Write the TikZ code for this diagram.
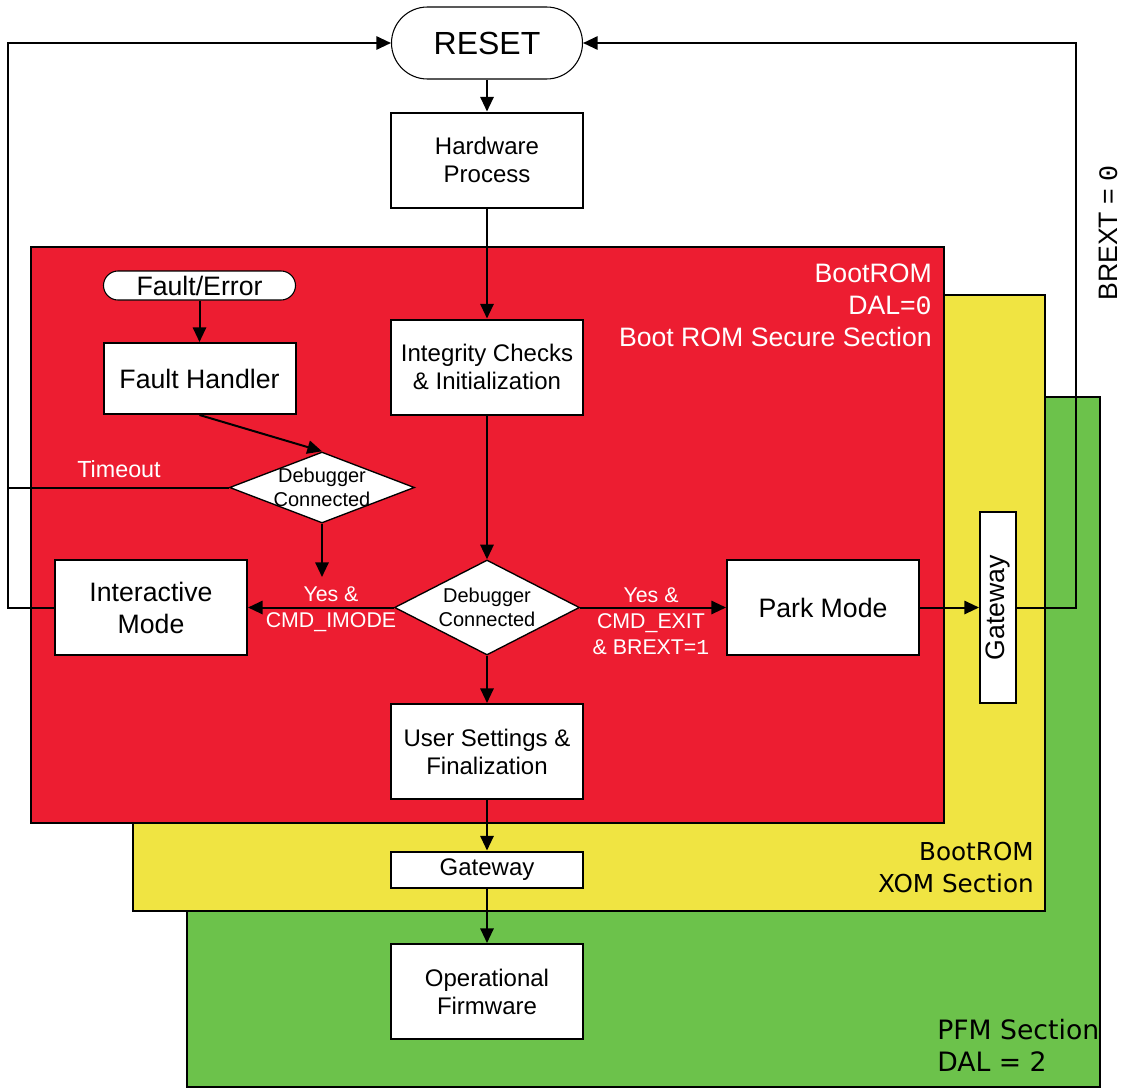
\documentclass[tikz,border=0pt]{standalone}
\usepackage{fontspec}
\setmainfont{Liberation Sans}
\newfontfamily\monodigit{Liberation Mono}
\newfontfamily\verd{DejaVu Sans}
\usetikzlibrary{shapes.geometric,arrows.meta}
\definecolor{secred}{RGB}{237,29,49}
\definecolor{secyellow}{RGB}{240,228,66}
\definecolor{secgreen}{RGB}{108,194,75}

\begin{document}
\begin{tikzpicture}[x=0.75pt,y=-0.75pt,
  box/.style={draw, line width=1.5pt, fill=white, minimum width=144pt, minimum height=71.25pt,
    align=center, inner sep=0pt, font=\fontsize{18}{21}\selectfont},
  bigbox/.style={box, font=\fontsize{20}{24}\selectfont},
  term/.style={draw, line width=0.8pt, fill=white, rounded corners=#1, inner sep=0pt},
  dia/.style={diamond, draw, line width=1pt, fill=white, inner sep=0pt, minimum width=138.75pt},
  dialabel/.style={align=center, inner sep=0pt, font=\fontsize{15}{17.5}\selectfont},
  flow/.style={line width=1.5pt, -{Triangle[length=11pt,width=10pt]}},
  wire/.style={line width=1.5pt},
  note/.style={text=white, font=\fontsize{16}{19.5}\selectfont, align=center, inner sep=0pt},
  seclabel/.style={font=\fontsize{20}{24}\selectfont, inner sep=0pt}
]
\useasboundingbox (0,0) rectangle (1122,1089);

% nested memory sections
\path[fill=secgreen, draw, line width=1.5pt] (187,397) rectangle (1100,1087);
\path[fill=secyellow, draw, line width=1.5pt] (133,295) rectangle (1045,911);
\path[fill=secred, draw, line width=1.5pt] (31,247) rectangle (944,823);

% section captions
\node[seclabel, text=white, anchor=east, align=right] (redlbl) at (932,305)
  {BootROM\\DAL={\monodigit 0}\\Boot ROM Secure Section};
\node[seclabel, font=\verd\fontsize{18.5}{24}\selectfont, anchor=east, align=right] (yellbl) at (1034,868)
  {BootROM\\XOM Section};
\node[seclabel, font=\verd\fontsize{20}{24}\selectfont, anchor=west, align=left] (grnlbl) at (937,1045)
  {PFM Section\\DAL = 2};

% flow nodes
\node[term=27pt, minimum width=143.25pt, minimum height=54pt, font=\fontsize{24}{28}\selectfont] (reset) at (487,43) {RESET};
\node[box] (hw) at (487,160) {Hardware\\Process};
\node[term=10.9pt, minimum width=144pt, minimum height=21.75pt, font=\fontsize{20}{24}\selectfont] (fault) at (199.5,285.5) {Fault/Error};
\node[bigbox, minimum height=53.25pt] (fh) at (199.5,378.5) {Fault Handler};
\node[box] (ic) at (487,367) {Integrity Checks\\\& Initialization};
\node[dia, minimum height=53.25pt, label={[dialabel]center:Debugger\\Connected}] (d1) at (322,487.5) {};
\node[dia, minimum height=71.25pt, label={[dialabel]center:Debugger\\Connected}] (d2) at (487,607.5) {};
\node[bigbox] (im) at (151,607.5) {Interactive\\Mode};
\node[bigbox] (pm) at (823,607.5) {Park Mode};
\node[box] (us) at (487,751.5) {User Settings \&\\Finalization};
\node[box, minimum height=27pt] (gw1) at (487,869.5) {Gateway};
\node[box] (of) at (487,991.5) {Operational\\Firmware};
\node[box, rotate=90, minimum width=143.25pt, minimum height=27pt, font=\fontsize{20}{24}\selectfont] (gw2) at (998,607.5) {Gateway};

% edge labels
\node[note, font=\fontsize{17.5}{21}\selectfont] (timeout) at (119,469) {Timeout};
\node[note] (lblim) at (331,609) {Yes \&\\CMD\_IMODE};
\node[note] (lblpm) at (651,621.5) {Yes \&\\CMD\_EXIT\\\& BREXT={\monodigit 1}};
\node[rotate=90, inner sep=0pt, font=\fontsize{20}{24}\selectfont] (brext) at (1108,233) {BREXT = {\monodigit 0}};

% rails back to reset
\coordinate (lrail) at (8,0);
\coordinate (rrail) at (1076,0);
\coordinate (d1end) at (322,577);

% connectors
\draw[flow] (reset) -- (hw);
\draw[flow] (hw) -- (ic);
\draw[flow] (fault) -- (fh);
\draw[flow] (fh.south) -- (d1.north);
\draw[flow] (d1.south) -- (d1end);
\draw[flow] (ic) -- (d2);
\draw[flow] (d2) -- (us);
\draw[flow] (us) -- (gw1);
\draw[flow] (gw1) -- (of);
\draw[flow] (d2.west) -- (im.east);
\draw[flow] (d2.east) -- (pm.west);
\draw[flow] (pm.east) -- (gw2.north);
\draw[wire] (d1.west) -- (d1.west -| lrail);
\draw[flow] (im.west) -- (im.west -| lrail) |- (reset.west);
\draw[flow] (gw2.south) -- (gw2.south -| rrail) |- (reset.east);
\end{tikzpicture}
\end{document}
